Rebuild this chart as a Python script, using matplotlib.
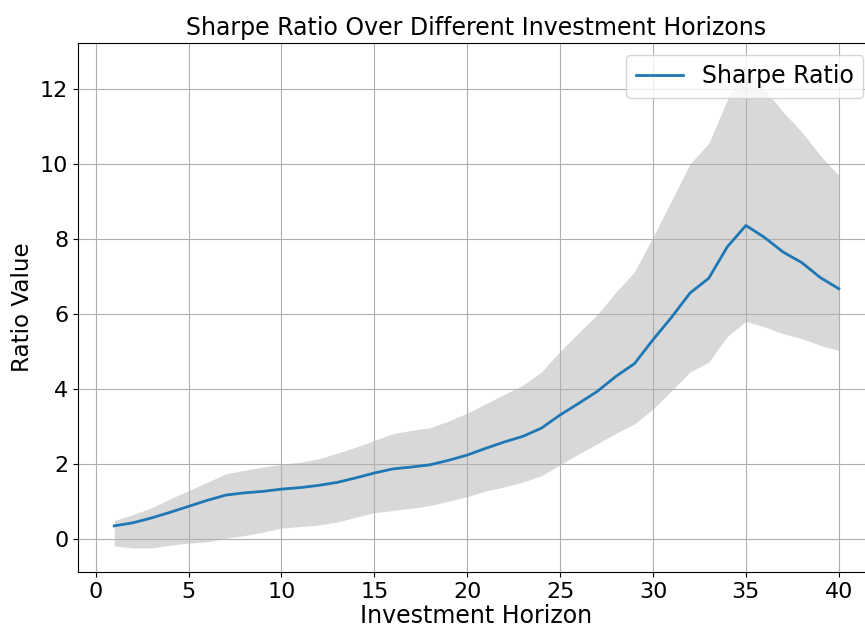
import numpy as np
import matplotlib
matplotlib.use("Agg")
import matplotlib.pyplot as plt

# investment horizons and sharpe ratio with its band
horizons = list(range(1, 41))
sharpe = [0.34, 0.42, 0.55, 0.70, 0.86, 1.02, 1.16, 1.22, 1.26, 1.32,
          1.36, 1.42, 1.50, 1.62, 1.75, 1.86, 1.91, 1.97, 2.09, 2.23,
          2.41, 2.58, 2.73, 2.95, 3.30, 3.61, 3.93, 4.33, 4.67, 5.31,
          5.91, 6.56, 6.95, 7.79, 8.36, 8.04, 7.65, 7.37, 6.97, 6.67]
band_low = [-0.20, -0.25, -0.25, -0.18, -0.12, -0.09, 0.01, 0.08, 0.17, 0.28,
            0.32, 0.36, 0.44, 0.57, 0.69, 0.75, 0.81, 0.88, 1.00, 1.12,
            1.27, 1.38, 1.51, 1.68, 1.97, 2.26, 2.53, 2.81, 3.06, 3.46,
            3.95, 4.45, 4.71, 5.40, 5.80, 5.65, 5.47, 5.34, 5.16, 5.02]
band_high = [0.48, 0.64, 0.82, 1.06, 1.28, 1.50, 1.73, 1.82, 1.91, 1.98,
             2.04, 2.13, 2.28, 2.44, 2.62, 2.80, 2.89, 2.96, 3.14, 3.35,
             3.60, 3.85, 4.10, 4.45, 5.00, 5.50, 5.98, 6.58, 7.12, 8.05,
             9.03, 10.01, 10.55, 11.72, 12.59, 12.00, 11.39, 10.86, 10.23, 9.70]

plt.rcParams['font.size'] = 16

fig = plt.figure(figsize=(8.65, 6.28), dpi=100)
ax = fig.add_axes([0.0902, 0.0892, 0.9214, 0.8424])

ax.plot(horizons, sharpe, color='tab:blue', linewidth=2, label='Sharpe Ratio')
ax.fill_between(horizons, band_low, band_high, color='gray', alpha=0.3, linewidth=0)

ax.set_title('Sharpe Ratio Over Different Investment Horizons', fontsize=17)
ax.set_xlabel('Investment Horizon', fontsize=17, labelpad=2)
ax.set_ylabel('Ratio Value', fontsize=16.6)
ax.set_xticks([0, 5, 10, 15, 20, 25, 30, 35, 40])
ax.set_yticks([0, 2, 4, 6, 8, 10, 12])
ax.tick_params(labelsize=16)
ax.grid(True)
ax.legend(loc='upper right', fontsize=17)

fig.savefig('out.png', dpi=100)
